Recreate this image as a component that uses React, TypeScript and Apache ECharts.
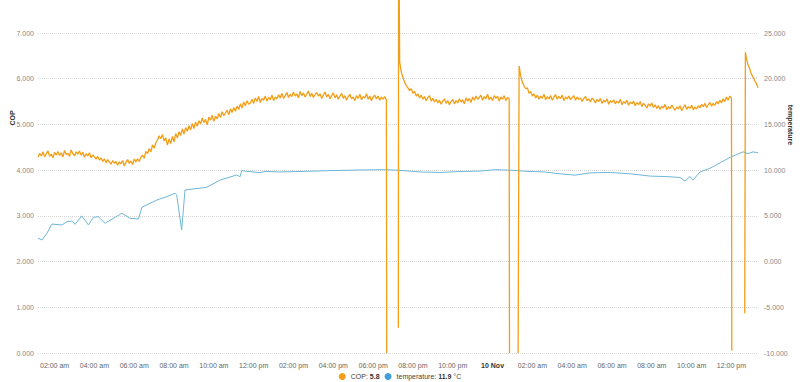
import React, { useEffect, useRef } from "react";
import * as echarts from "echarts";

// ---- data ----
// COP readings every 5 minutes from 9 Nov 01:10 (one row per hour), null = no reading
const copStart = "2023-11-09 01:10";
const copStepMinutes = 5;
const copValues: (number | null)[] = [
  4.28, 4.37, 4.31, 4.40, 4.29, 4.36, 4.42, 4.30, 4.35, 4.27, 4.39, 4.33,
  4.41, 4.32, 4.38, 4.29, 4.43, 4.34, 4.37, 4.30, 4.44, 4.36, 4.31, 4.40,
  4.35, 4.42, 4.33, 4.39, 4.28, 4.36, 4.31, 4.38, 4.27, 4.33, 4.29, 4.24,
  4.30, 4.22, 4.27, 4.19, 4.25, 4.16, 4.23, 4.18, 4.13, 4.21, 4.15, 4.19,
  4.11, 4.18, 4.14, 4.21, 4.09, 4.17, 4.23, 4.15, 4.20, 4.12, 4.24, 4.18,
  4.25, 4.19, 4.28, 4.33, 4.26, 4.41, 4.36, 4.47, 4.40, 4.55, 4.48, 4.60,
  4.66, 4.75, 4.69, 4.78, 4.64, 4.71, 4.55, 4.68, 4.58, 4.74, 4.62, 4.80,
  4.70, 4.84, 4.76, 4.90, 4.79, 4.93, 4.85, 4.97, 4.88, 5.02, 4.91, 5.05,
  4.96, 5.08, 5.01, 5.14, 5.04, 5.11, 4.99, 5.16, 5.09, 5.20, 5.07, 5.18,
  5.12, 5.24, 5.15, 5.28, 5.19, 5.25, 5.31, 5.21, 5.34, 5.26, 5.37, 5.29,
  5.40, 5.33, 5.45, 5.36, 5.49, 5.41, 5.52, 5.44, 5.47, 5.55, 5.46, 5.58,
  5.50, 5.61, 5.48, 5.57, 5.53, 5.62, 5.51, 5.59, 5.54, 5.64, 5.52, 5.60,
  5.56, 5.65, 5.58, 5.68, 5.57, 5.63, 5.70, 5.59, 5.66, 5.61, 5.71, 5.62,
  5.67, 5.58, 5.72, 5.63, 5.69, 5.60, 5.66, 5.73, 5.61, 5.68, 5.59, 5.65,
  5.70, 5.62, 5.67, 5.57, 5.64, 5.71, 5.60, 5.66, 5.56, 5.63, 5.69, 5.58,
  5.65, 5.55, 5.62, 5.68, 5.57, 5.63, 5.53, 5.61, 5.66, 5.56, 5.60, 5.52,
  5.63, 5.57, 5.66, 5.54, 5.61, 5.58, 5.67, 5.55, 5.62, 5.52, 5.60, 5.64,
  5.56, 5.62, 5.53, 5.60, 5.55, 5.61, 5.54, null, null, null, null, null,
  null, null, 6.37, 6.15, 6.02, 5.92, 5.85, 5.80, 5.74, 5.78, 5.68, 5.72,
  5.62, 5.67, 5.58, 5.64, 5.55, 5.61, 5.52, 5.59, 5.63, 5.51, 5.57, 5.49,
  5.55, 5.47, 5.53, 5.44, 5.51, 5.56, 5.46, 5.52, 5.43, 5.50, 5.55, 5.45,
  5.52, 5.47, 5.56, 5.49, 5.54, 5.45, 5.58, 5.51, 5.57, 5.48, 5.60, 5.53,
  5.62, 5.55, 5.59, 5.64, 5.53, 5.61, 5.56, 5.66, 5.54, 5.60, 5.52, 5.63,
  5.57, 5.62, 5.51, 5.60, 5.55, 5.63, 5.52, 5.59, 5.56, null, null, null,
  null, null, 6.28, 6.05, 5.92, 5.84, 5.78, 5.80, 5.68, 5.72, 5.62, 5.67,
  5.58, 5.64, 5.55, 5.62, 5.57, 5.66, 5.54, 5.61, 5.56, 5.63, 5.53, 5.60,
  5.65, 5.55, 5.61, 5.57, 5.64, 5.52, 5.60, 5.56, 5.62, 5.54, 5.59, 5.63,
  5.53, 5.60, 5.55, 5.58, 5.50, 5.57, 5.61, 5.52, 5.56, 5.49, 5.58, 5.53,
  5.47, 5.55, 5.50, 5.57, 5.46, 5.53, 5.49, 5.56, 5.44, 5.52, 5.48, 5.54,
  5.45, 5.51, 5.47, 5.55, 5.43, 5.50, 5.46, 5.53, 5.42, 5.49, 5.45, 5.51,
  5.41, 5.48, 5.43, 5.50, 5.39, 5.46, 5.42, 5.36, 5.45, 5.40, 5.47, 5.37,
  5.43, 5.35, 5.41, 5.33, 5.40, 5.36, 5.44, 5.32, 5.39, 5.34, 5.42, 5.37,
  5.31, 5.38, 5.34, 5.41, 5.30, 5.37, 5.43, 5.33, 5.39, 5.35, 5.42, 5.32,
  5.38, 5.34, 5.41, 5.36, 5.44, 5.39, 5.46, 5.37, 5.43, 5.48, 5.40, 5.46,
  5.42, 5.50, 5.45, 5.53, 5.47, 5.56, 5.50, 5.60, 5.53, 5.62, 5.58, null,
  null, null, null, null, null, null, 0.87, 6.45, 6.30, 6.22, 6.10, 6.04,
  5.96, 5.90, 5.80,
];
// extra COP readings at the on/off edges
const copEdgeTimes = [
  "2023-11-09 18:41",
  "2023-11-09 19:16",
  "2023-11-09 19:17",
  "2023-11-10 00:51",
  "2023-11-10 01:17",
  "2023-11-10 12:01",
  "2023-11-10 12:42",
];
const copEdgeValues = [0, 0.55, 10, 0, 0, 0.05, 6.58];

const tempTimes = [
  "2023-11-09 01:10", "2023-11-09 01:22", "2023-11-09 01:37", "2023-11-09 01:52",
  "2023-11-09 02:22", "2023-11-09 02:37", "2023-11-09 02:52", "2023-11-09 03:02",
  "2023-11-09 03:22", "2023-11-09 03:42", "2023-11-09 03:57", "2023-11-09 04:12",
  "2023-11-09 04:32", "2023-11-09 05:23", "2023-11-09 05:47", "2023-11-09 06:13",
  "2023-11-09 06:23", "2023-11-09 07:08", "2023-11-09 07:38", "2023-11-09 08:03",
  "2023-11-09 08:08", "2023-11-09 08:23", "2023-11-09 08:33", "2023-11-09 09:38",
  "2023-11-09 10:19", "2023-11-09 11:09", "2023-11-09 11:19", "2023-11-09 11:24",
  "2023-11-09 12:19", "2023-11-09 12:34", "2023-11-09 13:14", "2023-11-09 14:20",
  "2023-11-09 15:50", "2023-11-09 17:20", "2023-11-09 18:36", "2023-11-09 19:21",
  "2023-11-09 20:22", "2023-11-09 21:22", "2023-11-09 22:22", "2023-11-09 23:22",
  "2023-11-10 00:08", "2023-11-10 00:53", "2023-11-10 01:53", "2023-11-10 02:38",
  "2023-11-10 03:23", "2023-11-10 04:09", "2023-11-10 04:54", "2023-11-10 05:55",
  "2023-11-10 06:55", "2023-11-10 07:55", "2023-11-10 08:40", "2023-11-10 09:25",
  "2023-11-10 09:40", "2023-11-10 09:55", "2023-11-10 10:04", "2023-11-10 10:25",
  "2023-11-10 10:55", "2023-11-10 11:26", "2023-11-10 11:56", "2023-11-10 12:35",
  "2023-11-10 12:50", "2023-11-10 13:05", "2023-11-10 13:20",
];
const tempValues = [
  2.55, 2.36, 3.1, 4.1,
  4.0, 4.36, 4.44, 4.07,
  5.0, 4.0, 4.84, 4.9,
  4.19, 5.28, 4.73, 4.66,
  5.94, 6.73, 7.1, 7.47,
  7.28, 3.45, 7.83, 8.12,
  8.92, 9.47, 9.28, 9.94,
  9.72, 9.87, 9.8, 9.85,
  9.95, 10.02, 10.05, 9.98,
  9.8, 9.75, 9.85, 9.9,
  10.05, 10.0, 9.85, 9.8,
  9.6, 9.45, 9.7, 9.75,
  9.6, 9.35, 9.3, 9.2,
  8.8, 9.3, 8.9, 9.8,
  10.2, 10.8, 11.4, 12.0,
  11.8, 12.0, 11.9,
];

const xTickTimes = [
  "2023-11-09 02:00", "2023-11-09 04:00", "2023-11-09 06:00", "2023-11-09 08:00",
  "2023-11-09 10:00", "2023-11-09 12:00", "2023-11-09 14:00", "2023-11-09 16:00",
  "2023-11-09 18:00", "2023-11-09 20:00", "2023-11-09 22:00", "2023-11-10 00:00",
  "2023-11-10 02:00", "2023-11-10 04:00", "2023-11-10 06:00", "2023-11-10 08:00",
  "2023-11-10 10:00", "2023-11-10 12:00",
];

const copLatest = "5.8";
const tempLatest = "11.9";
const monthNames = ["Jan", "Feb", "Mar", "Apr", "May", "Jun", "Jul", "Aug", "Sep", "Oct", "Nov", "Dec"];

const parseTime = (s: string) => {
  const [d, t] = s.split(" ");
  const [Y, M, D] = d.split("-").map(Number);
  const [h, m] = t.split(":").map(Number);
  return new Date(Y, M - 1, D, h, m).getTime();
};

const pad = (n: number) => (n < 10 ? "0" + n : "" + n);

const FONT = "'Liberation Sans', Arial, Helvetica, sans-serif";
const ORANGE = "#F29E18";
const BLUE_LINE = "#6DB6DA";
const BLUE = "#3E9FDA";

export default function App() {
  const ref = useRef<HTMLDivElement>(null);

  useEffect(() => {
    if (!ref.current) return;
    const chart = echarts.init(ref.current, null, { renderer: "svg" });

    const startMs = parseTime(copStart);
    const copPoints: [number, number | null][] = copValues.map((v, i) => [
      startMs + i * copStepMinutes * 60000,
      v,
    ]);
    copEdgeTimes.forEach((t, k) => copPoints.push([parseTime(t), copEdgeValues[k]]));
    copPoints.sort((a, b) => a[0] - b[0]);

    const tempPoints = tempTimes.map((t, k) => [parseTime(t), tempValues[k]]);
    const xMin = copPoints[0][0];
    const xMax = copPoints[copPoints.length - 1][0];
    const ticks = xTickTimes.map(parseTime);

    const option: any = {
      animation: false,
      textStyle: { fontFamily: FONT },
      grid: { left: 38, right: 42, top: 33, bottom: 29, containLabel: false },
      legend: {
        top: 368,
        left: "center",
        icon: "circle",
        itemWidth: 7,
        itemHeight: 7,
        itemGap: 5,
        data: ["COP", "temperature"],
        textStyle: {
          fontFamily: FONT,
          fontSize: 7,
          color: "#444",
          rich: { b: { fontFamily: FONT, fontSize: 7, fontWeight: "bold", color: "#333" } },
        },
        formatter: (name: string) =>
          name === "COP" ? `COP: {b|${copLatest}}` : `temperature: {b|${tempLatest}} °C`,
      },
      xAxis: {
        type: "value",
        min: xMin,
        max: xMax,
        scale: true,
        axisLine: { show: false },
        axisTick: { show: false },
        splitLine: { show: false },
        axisLabel: {
          customValues: ticks,
          fontFamily: FONT,
          fontSize: 7,
          color: "#666",
          margin: 9,
          hideOverlap: false,
          showMinLabel: true,
          showMaxLabel: true,
          formatter: (value: number) => {
            const d = new Date(value);
            const h = d.getHours();
            const m = d.getMinutes();
            if (h === 0 && m === 0) return `{day|${d.getDate()} ${monthNames[d.getMonth()]}}`;
            const hh = h % 12 === 0 ? 12 : h % 12;
            return `${pad(hh)}:${pad(m)} ${h < 12 ? "am" : "pm"}`;
          },
          rich: { day: { fontFamily: FONT, fontSize: 7, fontWeight: "bold", color: "#333" } },
        },
      },
      yAxis: [
        {
          type: "value",
          position: "left",
          min: 0,
          max: 7,
          interval: 1,
          axisLine: { show: false },
          axisTick: { show: false },
          axisLabel: {
            fontFamily: FONT,
            fontSize: 7,
            color: "#888",
            margin: 4,
            formatter: (v: number) => v.toFixed(3),
          },
          splitLine: { show: true, lineStyle: { type: "dotted", color: "#d8d8d8", width: 1 } },
        },
        {
          type: "value",
          position: "right",
          min: -10,
          max: 25,
          interval: 5,
          axisLine: { show: false },
          axisTick: { show: false },
          axisLabel: {
            fontFamily: FONT,
            fontSize: 7,
            color: "#888",
            margin: 6,
            formatter: (v: number) => v.toFixed(3),
          },
          splitLine: { show: false },
        },
      ],
      graphic: [
        {
          type: "text",
          x: 12,
          y: 118,
          rotation: Math.PI / 2,
          style: {
            text: "COP",
            fontFamily: FONT,
            fontSize: 7,
            fontWeight: "bold",
            fill: "#333",
            align: "center",
            verticalAlign: "middle",
          },
        },
        {
          type: "text",
          x: 790,
          y: 125,
          rotation: -Math.PI / 2,
          style: {
            text: "temperature",
            fontFamily: FONT,
            fontSize: 7,
            fontWeight: "bold",
            fill: "#333",
            align: "center",
            verticalAlign: "middle",
          },
        },
      ],
      series: [
        {
          name: "COP",
          type: "line",
          yAxisIndex: 0,
          data: copPoints,
          showSymbol: false,
          symbol: "none",
          clip: false,
          connectNulls: false,
          itemStyle: { color: ORANGE },
          lineStyle: { color: ORANGE, width: 1.3 },
          z: 3,
        },
        {
          name: "temperature",
          type: "line",
          yAxisIndex: 1,
          data: tempPoints,
          showSymbol: false,
          symbol: "none",
          itemStyle: { color: BLUE },
          lineStyle: { color: BLUE_LINE, width: 1 },
          z: 2,
        },
      ],
    };

    chart.setOption(option);
    return () => chart.dispose();
  }, []);

  return (
    <div
      ref={ref}
      style={{ position: "fixed", left: 0, top: 0, width: 800, height: 382, background: "#fff" }}
    />
  );
}
